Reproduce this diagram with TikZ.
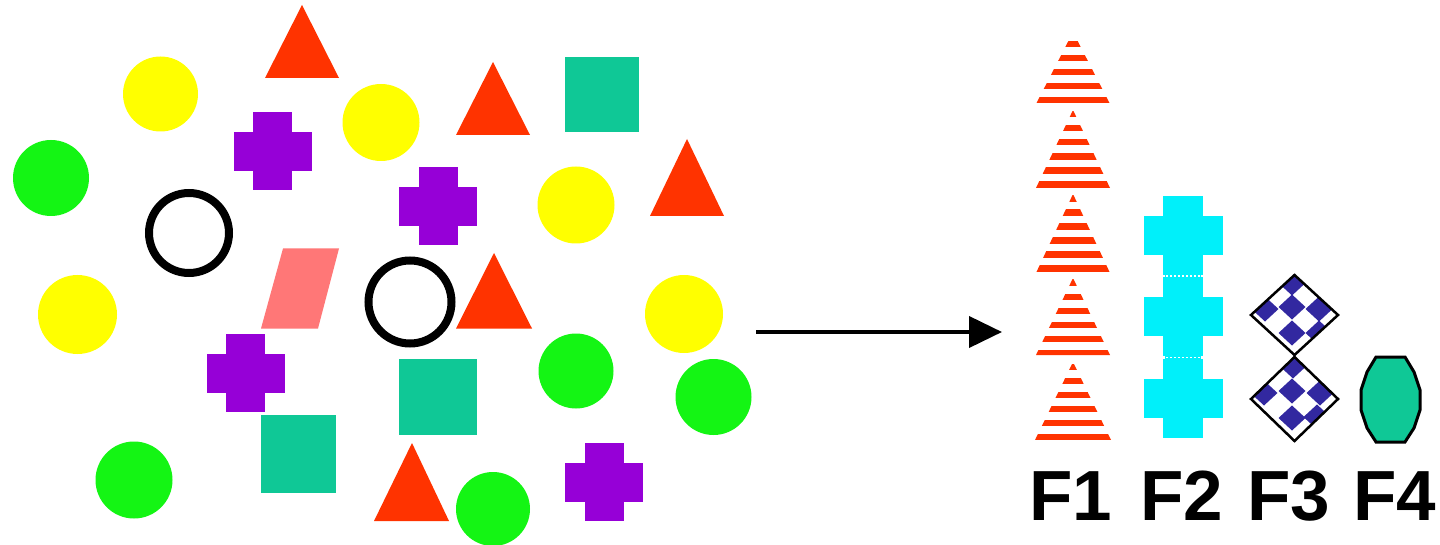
\documentclass[tikz,border=0pt]{standalone}
\usepackage{fontspec}
\setmainfont{Liberation Sans}
\usetikzlibrary{arrows.meta}
\definecolor{redc}{RGB}{255,51,0}
\definecolor{yellowc}{RGB}{255,255,0}
\definecolor{greenc}{RGB}{20,245,20}
\definecolor{purplec}{RGB}{150,0,215}
\definecolor{tealc}{RGB}{15,200,150}
\definecolor{salmonc}{RGB}{255,119,119}
\definecolor{cyanc}{RGB}{0,240,250}
\definecolor{bluec}{RGB}{50,40,160}
\newcommand{\plusfill}[4]{%
  \fill[#1] ({#2-#4/2},{#3-#4}) rectangle ({#2+#4/2},{#3+#4});
  \fill[#1] ({#2-#4},{#3-#4/2}) rectangle ({#2+#4},{#3+#4/2});}
\newcommand{\bluedot}[2]{%
  \fill[bluec] ({#1-13.5},{#2}) -- ({#1},{#2-12.5}) -- ({#1+13.5},{#2}) -- ({#1},{#2+12.5}) -- cycle;}
\tikzset{
  ring/.style={draw=black,line width=8pt},
  lbl/.style={font=\bfseries\fontsize{71}{80}\selectfont,anchor=base,inner sep=0pt},
  flowarrow/.style={line width=4pt,-{Triangle[length=33pt,width=31pt]}},
  diamondline/.style={draw=black,line width=2.5pt},
}
\begin{document}
\begin{tikzpicture}[x=1pt,y=-1pt]
\useasboundingbox (0,0) rectangle (1440,545);
\fill[white] (0,0) rectangle (1440,545);
% yellow circles
\fill[yellowc] (160.5,94) circle (37.5pt);
\fill[yellowc] (381,122.5) circle (38.5pt);
\fill[yellowc] (576,205) circle (38.5pt);
\fill[yellowc] (77.5,314.5) circle (39.5pt);
\fill[yellowc] (684,314) circle (39pt);
% green circles
\fill[greenc] (51,178) circle (38pt);
\fill[greenc] (576,371) circle (37.5pt);
\fill[greenc] (713.5,397) circle (38pt);
\fill[greenc] (134,480) circle (38.5pt);
\fill[greenc] (493,509) circle (37pt);
% black rings
\draw[ring] (189,233) circle (40pt);
\draw[ring] (410,302) circle (41.5pt);
% red triangles
\fill[redc] (302,5) -- (339,78) -- (265,78) -- cycle;
\fill[redc] (493,62) -- (530,135) -- (456,135) -- cycle;
\fill[redc] (687,139) -- (724,216) -- (650,216) -- cycle;
\fill[redc] (494,253) -- (532,328.5) -- (456,328.5) -- cycle;
\fill[redc] (412,443) -- (449,521) -- (374,521) -- cycle;
% teal squares
\fill[tealc] (565,57) rectangle (639,132);
\fill[tealc] (399,359) rectangle (477,435);
\fill[tealc] (261,415) rectangle (336,493);
% purple crosses
\plusfill{purplec}{272.5}{151.5}{39}
\plusfill{purplec}{438}{206.5}{39}
\plusfill{purplec}{245.5}{373}{39}
\plusfill{purplec}{604}{482}{39}
% salmon parallelogram
\fill[salmonc] (283,248.5) -- (339,248.5) -- (318,328.5) -- (261,328.5) -- cycle;
% arrow
\coordinate (arrowstart) at (756,332);
\coordinate (arrowend) at (1002,332);
\draw[flowarrow] (arrowstart) -- (arrowend);
% F1 striped triangles
\begin{scope}
\clip (1073,32) -- (1110,104) -- (1036,104) -- cycle
      (1073,110) -- (1110,188) -- (1036,188) -- cycle
      (1073,194) -- (1110,273) -- (1036,273) -- cycle
      (1073,278) -- (1110,355) -- (1036,355) -- cycle
      (1073,362) -- (1111,440) -- (1035,440) -- cycle;
\foreach \k in {0,...,28} {
  \fill[redc] (1030,{44+14.04*\k-3.2}) rectangle (1116,{44+14.04*\k+3.2});
}
\end{scope}
% F2 cyan crosses
\plusfill{cyanc}{1183}{235.5}{39.5}
\plusfill{cyanc}{1183}{316.5}{39.5}
\plusfill{cyanc}{1183}{398.5}{39.5}
\fill[cyanc] (1165,270) rectangle (1201,285);
\fill[cyanc] (1165,350) rectangle (1201,365);
\draw[white,line width=1.5pt,dash pattern=on 2pt off 2pt] (1166,276) -- (1201,276);
\draw[white,line width=1.5pt,dash pattern=on 2pt off 2pt] (1166,357.5) -- (1201,357.5);
% F3 diamonds
\begin{scope}
\clip (1251,315) -- (1294.5,275) -- (1338,315) -- (1294.5,355) -- cycle;
\bluedot{1292}{283}\bluedot{1265}{309}\bluedot{1292}{307}\bluedot{1319}{309}
\bluedot{1292}{333}\bluedot{1319}{333}
\end{scope}
\draw[diamondline] (1251,315) -- (1294.5,275) -- (1338,315) -- (1294.5,355) -- cycle;
\begin{scope}
\clip (1251,399) -- (1294.5,357) -- (1338,399) -- (1294.5,441) -- cycle;
\bluedot{1293}{366}\bluedot{1264}{393}\bluedot{1292}{391}\bluedot{1320}{393}
\bluedot{1292}{418}\bluedot{1317}{417}
\end{scope}
\draw[diamondline] (1251,399) -- (1294.5,357) -- (1338,399) -- (1294.5,441) -- cycle;
% F4 hexagon
\filldraw[fill=tealc,draw=black,line width=3pt]
  (1376,357) -- (1405,357) -- (1414,372) -- (1420,390) -- (1420,410) -- (1414,428)
  -- (1405,442) -- (1376,442) -- (1367,428) -- (1361,410) -- (1361,390) -- (1367,372) -- cycle;
% labels
\node[lbl] (f1) at (1071,520) {F1};
\node[lbl] (f2) at (1182,520) {F2};
\node[lbl] (f3) at (1289,520) {F3};
\node[lbl] (f4) at (1395,520) {F4};
\end{tikzpicture}
\end{document}
